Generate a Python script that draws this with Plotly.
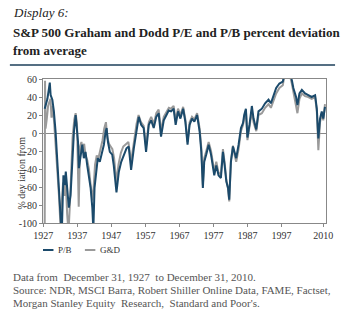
import plotly.graph_objects as go

# P/B percent deviation from average (decimal year, %)
pb_years = [1927.9, 1928.7, 1929.4, 1929.65, 1930.15, 1930.6, 1931.1, 1931.6, 1932.1, 1932.6, 1932.9,
            1933.4, 1933.8, 1934.1, 1934.55, 1935.0, 1935.5, 1936.0, 1936.5, 1937.0, 1937.3, 1937.7,
            1937.95, 1938.45, 1938.95, 1939.4, 1939.9, 1940.4, 1940.9, 1941.4, 1941.9, 1942.2, 1942.55,
            1943.15, 1943.5, 1944.1, 1944.8, 1945.3, 1945.8, 1946.1, 1946.5, 1947.05, 1947.75, 1948.2,
            1949.0, 1949.7, 1950.4, 1951.15, 1951.95, 1952.6, 1953.3, 1954.1, 1954.9, 1955.55, 1956.25,
            1957.0, 1957.7, 1958.5, 1959.2, 1959.95, 1960.7, 1961.4, 1962.1, 1962.9, 1963.7, 1964.35,
            1965.05, 1965.8, 1966.4, 1967.1, 1967.8, 1968.6, 1969.25, 1969.9, 1970.5, 1971.2, 1971.9,
            1972.7, 1973.45, 1973.95, 1974.4, 1974.8, 1975.4, 1976.1, 1976.8, 1977.4, 1977.75, 1978.35,
            1979.0, 1979.7, 1980.3, 1980.8, 1981.3, 1981.8, 1982.15, 1982.65, 1983.25, 1983.7, 1984.2,
            1984.9, 1985.6, 1986.2, 1986.55, 1987.05, 1987.5, 1988.1, 1988.8, 1989.3, 1990.1, 1990.75,
            1991.75, 1992.7, 1993.7, 1994.4, 1995.15, 1995.95, 1996.9, 1997.9, 1998.3, 1999.5, 2000.35,
            2000.55, 2001.0, 2001.8, 2002.2, 2002.8, 2003.5, 2004.45, 2005.4, 2006.4, 2007.4, 2007.9,
            2008.35, 2008.85, 2009.35, 2009.8, 2010.3]
pb_values = [27, 38, 56, 42, 37, 24, 1.5, -32, -65, -98, -115,
             -47, -58, -43, -65, -83, -69, -28, 1.5, 20, 9, -10,
             -39, -24, -13, -28, -21, -36, -47, -61, -83, -108, -61,
             -39, -28, -32, -21, -13, 1.5, 5.5, -10, -21, -24, -36,
             -66, -43, -32, -24, -17, -15, -41, -17, 5.5, 18, 9,
             5.5, -21, 9, 14, 5.5, 18, 22, -4, 14, 20, 25,
             24, 27, 9, 24, 16, 27, 12.5, -13, 9, 16, 12.5,
             20, 1.5, -21, -61, -32, -24, -13, -24, -39, -47, -36,
             -47, -50, -21, -36, -54, -61, -74, -32, -15, -21, -28,
             -13, 5.5, 11, 20, 27, -5, 9, 30, 16, 4, 24,
             27, 33, 37, 33, 42, 50, 55, 57, 64, 75, 68,
             59, 50, 40, 31, 44, 48, 44, 42, 40, 42, 27,
             -6, 16, 24, 16, 29]

# Graham & Dodd P/E percent deviation from average
gd_years = [1927.9, 1928.0, 1928.15, 1928.5, 1928.9, 1929.3, 1929.6, 1929.9, 1930.3, 1930.7, 1931.1,
            1931.6, 1932.1, 1932.5, 1932.9, 1933.3, 1933.7, 1934.1, 1934.5, 1934.9, 1935.3, 1935.7,
            1936.1, 1936.6, 1937.0, 1937.4, 1937.7, 1937.9, 1938.3, 1938.7, 1939.1, 1939.5, 1939.9,
            1940.4, 1940.9, 1941.4, 1941.9, 1942.3, 1942.7, 1943.2, 1943.7, 1944.3, 1944.9, 1945.4,
            1945.9, 1946.3, 1946.8, 1947.3, 1947.8, 1948.3, 1949.0, 1949.6, 1950.3, 1951.0, 1951.8,
            1952.5, 1953.3, 1954.1, 1954.9, 1955.5, 1956.2, 1957.0, 1957.7, 1958.5, 1959.2, 1960.0,
            1960.7, 1961.4, 1962.1, 1962.9, 1963.7, 1964.4, 1965.0, 1965.8, 1966.4, 1967.1, 1967.8,
            1968.6, 1969.25, 1969.9, 1970.5, 1971.2, 1971.9, 1972.7, 1973.45, 1973.95, 1974.4, 1974.8,
            1975.4, 1976.1, 1976.8, 1977.4, 1977.75, 1978.35, 1979.0, 1979.7, 1980.3, 1980.8, 1981.3,
            1981.8, 1982.15, 1982.65, 1983.25, 1983.7, 1984.2, 1984.9, 1985.6, 1986.2, 1986.55, 1987.05,
            1987.5, 1988.1, 1988.8, 1989.3, 1990.1, 1990.75, 1991.75, 1992.7, 1993.7, 1994.4, 1995.15,
            1995.95, 1996.9, 1997.9, 1998.3, 1999.5, 2000.55, 2001.0, 2001.8, 2002.2, 2002.8, 2003.5,
            2004.45, 2005.4, 2006.4, 2007.4, 2007.9, 2008.35, 2008.85, 2009.35, 2009.8, 2010.3]
gd_values = [-110, 58, 5, 15, 30, 35, 38, 17, 30, 10, -10,
             -40, -70, -100, -80, -55, -70, -55, -90, -110, -80, -40,
             -5, 15, 22, 10, -30, -82, -15, -10, -20, -12, -25,
             -30, -40, -55, -75, -60, -35, -25, -28, -18, -8, 5,
             12, -5, -12, -15, -18, -28, -55, -35, -22, -15, -12,
             -10, -32, -10, 10, 20, 12, 8, -15, 12, 18, 10,
             22, 26, 2, 18, 24, 28, 27, 30, 14, 27, 20,
             29, 15, -10, 12, 18, 15, 22, 5, -17, -58, -28,
             -20, -10, -20, -35, -43, -32, -44, -46, -18, -33, -52,
             -62, -76, -30, -14, -24, -32, -18, 2, 9, 17, 25,
             -8, 6, 24, 12, 2, 20, 22, 28, 32, 28, 36,
             44, 50, 53, 62, 72, 55, 45, 32, 22, 38, 44,
             41, 40, 38, 40, 24, -19, 12, 22, 14, 32]

x_tick_labels = ["1927", "1937", "1947", "1957", "1967", "1977", "1987", "1997", "2010"]
x_tick_vals = [1927.5, 1937.5, 1947.5, 1957.5, 1967.5, 1977.5, 1987.5, 1997.5, 2009.8]
y_tick_vals = [60, 40, 20, 0, -20, -40, -60, -80, -100]
y_tick_labels = ["60", "40", "20", "0", "-20", "-40", "-60", "-80", "-100"]

BLUE = "#1b4a6b"
GREY = "#9a9a9a"
SERIF = "Liberation Serif, Times New Roman, serif"

fig = go.Figure()
fig.add_trace(go.Scatter(x=gd_years, y=gd_values, mode="lines", name="G&D",
                         line=dict(color=GREY, width=2), showlegend=False))
fig.add_trace(go.Scatter(x=pb_years, y=pb_values, mode="lines", name="P/B",
                         line=dict(color=BLUE, width=2), showlegend=False))

fig.update_layout(
    width=350, height=323,
    margin=dict(l=43, r=24, t=79, b=100),
    paper_bgcolor="white", plot_bgcolor="white",
    font=dict(family=SERIF, size=10, color="#333"),
    showlegend=False,
    xaxis=dict(range=[1927.4, 2010.6], tickmode="array", tickvals=x_tick_vals,
               ticktext=x_tick_labels, showgrid=False, zeroline=False,
               showline=True, linecolor="#888", linewidth=1, mirror=True,
               ticks="outside", ticklen=3, tickcolor="#888",
               tickfont=dict(size=10, family=SERIF, color="#333")),
    yaxis=dict(range=[-100, 60], tickmode="array", tickvals=y_tick_vals,
               ticktext=y_tick_labels,
               showgrid=False, zeroline=True, zerolinecolor="#888", zerolinewidth=1,
               showline=True, linecolor="#888", linewidth=1, mirror=True,
               ticks="outside", ticklen=3, tickcolor="#888",
               tickfont=dict(size=10, family=SERIF, color="#333")),
)

# header
fig.add_annotation(text="<i>Display 6:</i>", xref="paper", yref="paper", x=-0.113, y=1.0,
                   xanchor="left", yanchor="middle", showarrow=False, align="left",
                   font=dict(size=13, family=SERIF, color="#222"), yshift=67)
fig.add_annotation(text="<b>S&P 500 Graham and Dodd P/E and P/B percent deviation</b>",
                   xref="paper", yref="paper", x=-0.113, y=1.0, xanchor="left", yanchor="middle",
                   showarrow=False, align="left",
                   font=dict(size=13, family=SERIF, color="#222"), yshift=47)
fig.add_annotation(text="<b>from average</b>",
                   xref="paper", yref="paper", x=-0.113, y=1.0, xanchor="left", yanchor="middle",
                   showarrow=False, align="left",
                   font=dict(size=13, family=SERIF, color="#222"), yshift=29)
fig.add_shape(type="line", xref="paper", yref="paper", x0=-0.117, x1=1.032,
              ysizemode="pixel", yanchor=1.0, y0=14, y1=14,
              line=dict(color="#1c3f5a", width=1.5))

# y-axis title
fig.add_annotation(text="% dev iation from", xref="paper", yref="paper", x=-0.104, y=0.344,
                   textangle=-90, showarrow=False, font=dict(size=10, family=SERIF, color="#333"))

# legend (short line samples as in the original)
legend_items = [("P/B", BLUE, 0.0), ("G&D", GREY, 0.148)]
for name, color, x0 in legend_items:
    fig.add_shape(type="line", xref="paper", yref="paper", x0=x0, x1=x0 + 0.037,
                  y0=-0.1875, y1=-0.1875, line=dict(color=color, width=2))
    fig.add_annotation(text=name, xref="paper", yref="paper", x=x0 + 0.045, y=-0.1875,
                       xanchor="left", yanchor="middle", showarrow=False,
                       font=dict(size=9, family=SERIF, color="#333"))

# footer
footer_lines = [
    ("Data from  December 31, 1927  to December 31, 2010.", -0.375),
    ("Source: NDR, MSCI Barra, Robert Shiller Online Data, FAME, Factset,", -0.468),
    ("Morgan Stanley Equity  Research,  Standard and Poor's.", -0.558),
]
for txt, yy in footer_lines:
    fig.add_annotation(text=txt, xref="paper", yref="paper", x=-0.113, y=yy,
                       xanchor="left", yanchor="middle", showarrow=False, align="left",
                       font=dict(size=11, family=SERIF, color="#555"))

fig.write_html("out.html")
